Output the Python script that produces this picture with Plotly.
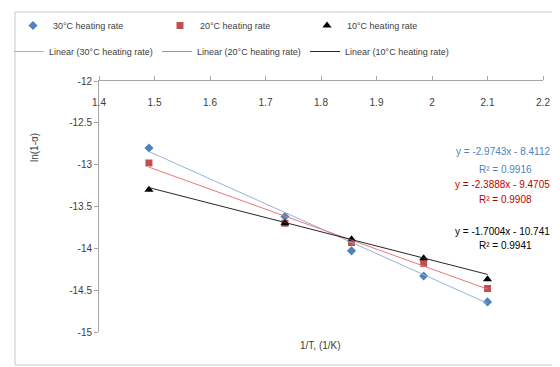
import plotly.graph_objects as go

# Data
x_vals = [1.49, 1.735, 1.855, 1.985, 2.10]
y_30 = [-12.80, -13.62, -14.03, -14.33, -14.64]
y_20 = [-12.98, -13.70, -13.93, -14.18, -14.48]
y_10 = [-13.30, -13.70, -13.89, -14.12, -14.37]

series_names = ["30°C heating rate", "20°C heating rate", "10°C heating rate"]
slopes = [-2.9743, -2.3888, -1.7004]
intercepts = [-8.4112, -9.4705, -10.741]
eq_texts = ["y = -2.9743x - 8.4112", "y = -2.3888x - 9.4705", "y = -1.7004x - 10.741"]
r2_texts = ["R² = 0.9916", "R² = 0.9908", "R² = 0.9941"]

x_ticks = [1.4, 1.5, 1.6, 1.7, 1.8, 1.9, 2, 2.1, 2.2]
y_ticks = [-12, -12.5, -13, -13.5, -14, -14.5, -15]

marker_colors = ["#4F81BD", "#C0504D", "#000000"]
line_colors = ["#95B3D7", "#E8777A", "#262626"]
symbols = ["diamond", "square", "triangle-up"]
sizes = [7, 7, 8]
ys = [y_30, y_20, y_10]

FONT = "Liberation Sans"
OFF = 8  # page body margin
W, H = 560 - OFF, 367 - OFF
PL, PR, PT, PB = 99, 543, 81, 332  # plot area in screen pixels

def py(p):
    return (PB - p) / float(PB - PT)
def px(p):
    return (p - PL) / float(PR - PL)

fig = go.Figure()
for i in range(3):
    fig.add_trace(go.Scatter(x=x_vals, y=ys[i], mode="markers", name=series_names[i],
                             marker=dict(symbol=symbols[i], size=sizes[i], color=marker_colors[i]),
                             legend="legend"))
for i in range(3):
    xs = [x_vals[0], x_vals[-1]]
    fy = [slopes[i] * v + intercepts[i] for v in xs]
    fig.add_trace(go.Scatter(x=xs, y=fy, mode="lines", name=f"Linear ({series_names[i]})",
                             line=dict(color=line_colors[i], width=1), legend="legend2"))

# equation annotations
eq_y_px = [151, 184, 231]
r2_y_px = [169, 199, 245]
eq_colors = ["#4F81BD", "#C00000", "#000000"]
for i in range(3):
    fig.add_annotation(x=px(552), y=py(eq_y_px[i]), xref="paper", yref="paper", text=eq_texts[i],
                       showarrow=False, xanchor="right", yanchor="middle",
                       font=dict(size=10, color=eq_colors[i], family=FONT))
    fig.add_annotation(x=px(505), y=py(r2_y_px[i]), xref="paper", yref="paper", text=r2_texts[i],
                       showarrow=False, xanchor="center", yanchor="middle",
                       font=dict(size=10, color=eq_colors[i], family=FONT))

fig.add_annotation(x=px(34), y=py(148), xref="paper", yref="paper", text="ln(1-α)", textangle=-90,
                   showarrow=False, xanchor="center", yanchor="middle",
                   font=dict(size=10, color="#404040", family=FONT))
fig.add_annotation(x=px(320), y=py(345), xref="paper", yref="paper", text="1/T, (1/K)",
                   showarrow=False, xanchor="center", yanchor="middle",
                   font=dict(size=10, color="#404040", family=FONT))

# outer border (right edge lies beyond the visible area)
fig.add_shape(type="rect", xref="paper", yref="paper",
              x0=px(15), x1=px(575), y0=py(365), y1=py(12),
              line=dict(color="#C8C8C8", width=1), fillcolor="rgba(0,0,0,0)", layer="above")

fig.update_layout(
    width=W, height=H,
    margin=dict(l=PL - OFF, r=W - (PR - OFF), t=PT - OFF, b=H - (PB - OFF), autoexpand=False),
    paper_bgcolor="white", plot_bgcolor="white",
    font=dict(family=FONT, size=10, color="#404040"),
    legend=dict(orientation="h", x=px(13), y=py(11),
                yanchor="top", xanchor="left",
                entrywidth=102, entrywidthmode="pixels", font=dict(size=9, color="#404040"),
                bgcolor="rgba(0,0,0,0)"),
    legend2=dict(orientation="h", x=px(9), y=py(37),
                 yanchor="top", xanchor="left",
                 entrywidth=103, entrywidthmode="pixels", font=dict(size=9, color="#404040"),
                 bgcolor="rgba(0,0,0,0)"),
    xaxis=dict(range=[1.4, 2.2], tickvals=x_ticks, ticktext=[str(v) for v in x_ticks],
               side="top", ticklabelstandoff=-34, showgrid=False, zeroline=False,
               showline=True, linecolor="#A6A6A6", ticks="outside", ticklen=4, tickcolor="#A6A6A6",
               tickfont=dict(size=10, color="#404040")),
    yaxis=dict(range=[-15, -12], tickvals=y_ticks, ticktext=[str(v) for v in y_ticks],
               showgrid=False, zeroline=False, showline=True, linecolor="#A6A6A6",
               ticks="outside", ticklen=4, tickcolor="#A6A6A6",
               tickfont=dict(size=10, color="#404040")),
)

fig.write_html("out.html",
               post_script="document.documentElement.style.overflow='hidden';"
                           "document.body.style.overflow='hidden';")
